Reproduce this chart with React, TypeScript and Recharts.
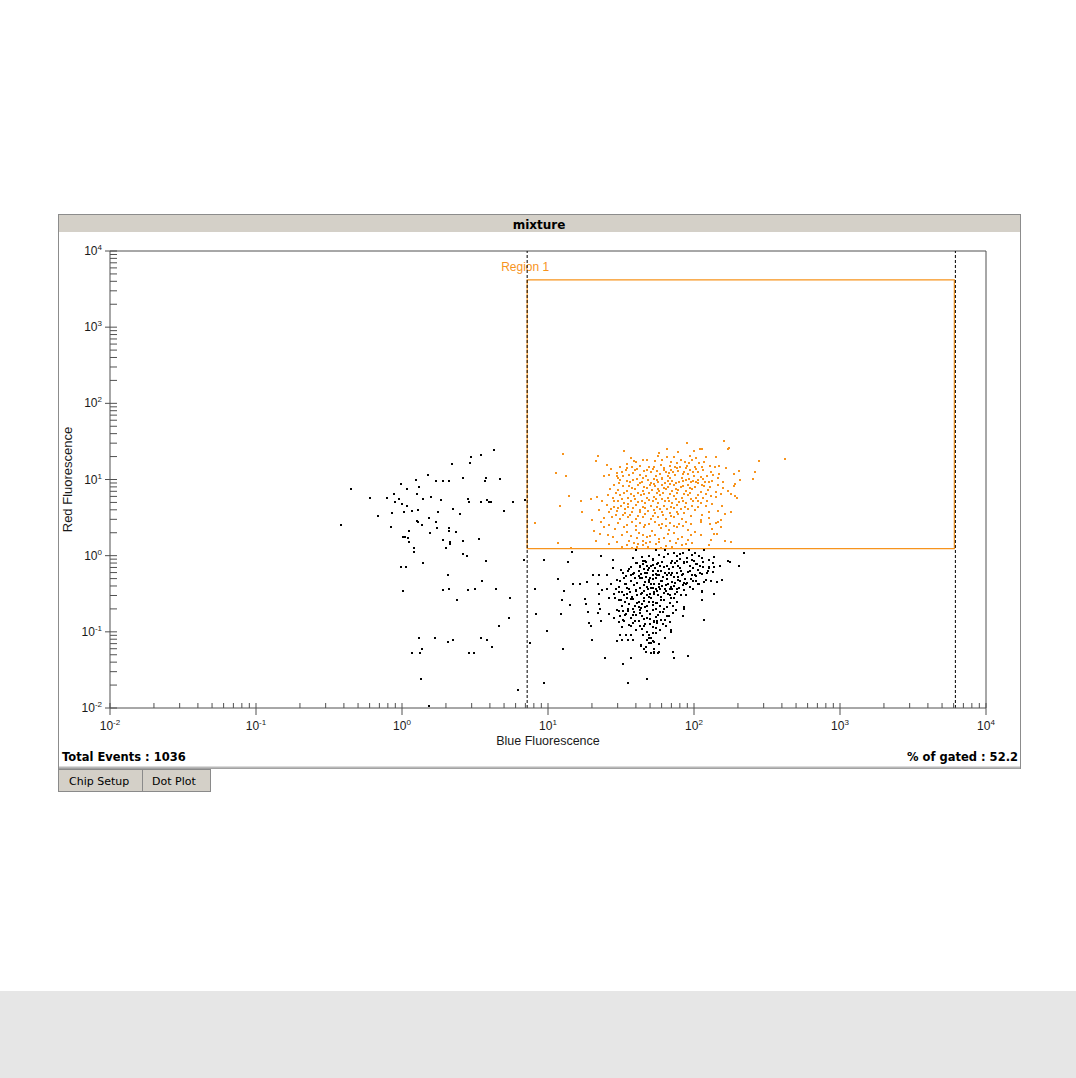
import React from 'react';
import { ScatterChart, Scatter, XAxis, YAxis, ReferenceLine, ReferenceArea, Label } from 'recharts';

const ORANGE = '#F7941D';
const AXIS_GREY = '#505050';
const SANS = '"Liberation Sans", Arial, sans-serif';
const UI_FONT = '"DejaVu Sans", Verdana, sans-serif';

const plotTitle = 'mixture';
const xTitle = 'Blue Fluorescence';
const yTitle = 'Red Fluorescence';
const regionName = 'Region 1';
const totalEvents = 1036;
const gatedPercent = 52.2;
const tabNames = ['Chip Setup', 'Dot Plot'];

// log decades on both axes, minor marks at 2..9 inside each decade
const decades = [-2, -1, 0, 1, 2, 3, 4];
const minorSteps = [2, 3, 4, 5, 6, 7, 8, 9];

// gate markers (blue axis) and the Region 1 box
const gateMarkers = [7.2, 6170];
const regionBlue = [7.2, 6070];
const regionRed = [1.235, 4170];

// [blue, red] events inside Region 1
const gatedEvents: [number, number][] = [
  [90, 30], [33, 24], [65, 25], [110, 25], [113, 25], [12.7, 21.6], [21.9, 20.4], [57, 20.4], [73, 19.6], [94, 20.4],
  [104, 19], [120, 19.6], [37, 19], [44.7, 17.8], [47.5, 17.8], [40.3, 16.9], [54, 17.4], [70, 17.2], [82, 18.2],
  [86.8, 17.2], [97.5, 18.2], [21.3, 17.6], [118, 17.2],
  [31.3, 14.5], [35, 14], [37.8, 14.5], [42.5, 15], [49, 14.5], [53.5, 14.8], [59.8, 15.6], [62.7, 14.1], [68.5, 15.2],
  [74.5, 14.8], [80, 14.5], [89.6, 15.2], [102, 14.5], [113, 14.8], [128, 15],
  [32, 12.7], [34.1, 13.5], [39.4, 13.2], [45.7, 12.9], [51.1, 12.4], [56, 12.9], [64.5, 12.4], [69.4, 13.5], [78, 12.9],
  [85.6, 12.7], [93.4, 13.5], [106, 12.7], [116, 13.5], [130, 12.4],
  [11.4, 12], [13.2, 11.1], [24, 11.1], [26, 11.5], [29.7, 11], [32.6, 11], [35.8, 11.5], [42.9, 11.5], [46.7, 11],
  [54.6, 11], [60.3, 10.6], [66.5, 11], [74, 11.5], [82.3, 10.6], [100, 11.1], [111, 10.7], [122, 11.1], [136, 11.5],
  [31.1, 9.9], [34.5, 9.5], [38, 10], [43.7, 9.4], [48.7, 9.8], [53.5, 10.2], [57, 9.4], [63.3, 9], [71.2, 9.6], [79, 9.4],
  [88, 10], [95.6, 9.2], [107, 9.8], [119, 9.4], [132, 9.6],
  [28.3, 8.5], [32.6, 8.1], [35.8, 8.3], [41.3, 8.5], [45.7, 8], [50.3, 8.5], [54.1, 8.1], [60.3, 8.5], [66.5, 8],
  [73.5, 8.5], [81.6, 7.9], [90.5, 8.5], [102, 8], [113, 8.5], [129, 7.9],
  [30.4, 7.3], [34.6, 7.1], [39.4, 7.4], [44.4, 7], [51.7, 7.3], [57.6, 7], [63.9, 7.4], [70.3, 7], [78, 7.3], [88, 7],
  [97.5, 7.4], [111, 6.8], [124, 7.3],
  [13.9, 6], [21.6, 5.9], [25.6, 6.2], [27.8, 5.8], [31.3, 6.2], [35.2, 5.7], [39, 6], [43.4, 6.2], [47.5, 5.7], [53, 5.9],
  [58.8, 6.2], [66, 5.7], [73.3, 6], [82.3, 5.7], [91.6, 6.2], [103, 5.8], [115, 5.7], [130, 6],
  [19.7, 5.6], [23.3, 5.3], [30, 5.2], [33.3, 4.97], [37, 5.2], [41.5, 5.1], [46.2, 4.85], [52.3, 5.2], [57, 4.97],
  [63.3, 5.2], [71.2, 4.85], [79, 5.1], [88.5, 4.86], [99, 5.2], [111, 4.85], [123, 5.2],
  [12, 4.5], [16.8, 5.2], [25.3, 4.66], [28.3, 4.4], [31.6, 4.55], [35.5, 4.4], [40.3, 4.66], [44.7, 4.4], [51.1, 4.55],
  [56, 4.3], [62.2, 4.55], [69.4, 4.4], [76.8, 4.66], [86.8, 4.4], [96.7, 4.55], [107, 4.3], [121, 4.5], [132, 4.75],
  [17, 3.7], [22.2, 4], [26.1, 3.7], [29.8, 3.9], [33.7, 3.6], [37.8, 3.8], [42.9, 3.7], [48.7, 3.9], [54, 3.6],
  [60.6, 3.8], [68, 3.6], [76, 3.8], [85.6, 3.6], [113, 3.45], [127, 3.7],
  [19.9, 2.97], [24.3, 3.13], [27.5, 3.25], [31.3, 3.05], [35.2, 3.18], [39.8, 3], [44.7, 3.25], [51.1, 3.05], [57, 3.25],
  [64, 3], [73.5, 3.18], [82.3, 3.05], [111, 2.94], [126, 3.13],
  [23, 2.75], [37.8, 2.75], [42.9, 2.65], [46.4, 2.55], [54.1, 2.75], [60.3, 2.6], [69, 2.7], [79, 2.6], [88, 2.75],
  [111, 2.75], [128, 2.6],
  [20.6, 2.13], [24.1, 2.4], [28.8, 2.26], [33.3, 2.35], [39.8, 2.2], [45.7, 2.4], [51.7, 2.08], [59.8, 2.31], [67, 2.17],
  [76.8, 2.35], [90.5, 2.17], [102, 2.04], [132, 2.26],
  [21.3, 1.54], [25.8, 1.89], [32, 1.89], [37, 1.81], [42, 1.96], [47.5, 1.74], [54.1, 1.89], [62.2, 1.7], [73.3, 1.96],
  [83, 1.77], [111, 1.89], [44.7, 1.57], [50.3, 1.51], [68, 1.54], [91.6, 1.6], [131, 1.6],
  [11.8, 1.45], [26.1, 1.42], [34.5, 1.39], [38.9, 1.48], [44.4, 1.36], [55.2, 1.42], [64.5, 1.34], [82.3, 1.36],
  [97.5, 1.45], [127, 1.36], [32, 1.29], [40.9, 1.29], [48.7, 1.29], [59.8, 1.27], [70.3, 1.29], [37.8, 1.25],
  [160, 32], [174, 26.3], [172, 25.3], [418, 18.7], [280, 17.6], [142, 19.8], [140, 14.4], [148, 15.2], [165, 14],
  [202, 12.9], [188, 11.8], [260, 12.7], [255, 10.2], [207, 9.8], [148, 11.8], [145, 10.4], [157, 9.4], [146, 8.5],
  [157, 7.75], [170, 7.1], [192, 8.7], [188, 8.2], [180, 6.5], [190, 6], [196, 5.7], [142, 6.8], [154, 6.5], [141, 5.9],
  [155, 4.55], [145, 3.9], [162, 3.55], [178, 3.7], [153, 2.94], [146, 2.8], [142, 2.65], [154, 2.4], [138, 1.93],
  [144, 1.93], [162, 1.57], [178, 1.51], [14.3, 1.27], [8.2, 2.7],
  // denser core of the gated population
  [27, 13.8], [29.5, 12.1], [38.5, 12.2], [41, 13.9], [47.8, 13.2], [52.5, 13.9], [58.5, 11.8], [62, 13.3], [67.5, 12],
  [72, 12.5], [76, 14], [84, 11.7], [88, 14], [91, 11.9], [98, 12.6], [104, 13.8],
  [30.3, 10.4], [36.6, 9.2], [40.5, 10.3], [45, 10.5], [50.5, 9.1], [55.5, 9.9], [60, 10.2], [66, 9.6], [69, 10.4],
  [75.5, 9], [84.5, 9.6], [92, 10.3], [99, 9.7], [103, 9.3], [115, 10.2], [126, 9.3],
  [26.5, 7.6], [30.8, 8.9], [37.5, 7.8], [43, 8.9], [47.8, 7.7], [52.8, 8.8], [56.8, 7.6], [62.7, 7.8], [69, 8.8],
  [75.8, 7.6], [84.3, 8.3], [93.5, 7.8], [106, 8.9], [118, 8.1],
  [29, 6.6], [33, 6.6], [36.9, 6.4], [41.3, 6.6], [45.5, 6.5], [49.5, 6.6], [55.5, 6.7], [61, 6.6], [68.5, 6.4], [76, 6.7],
  [85, 6.5], [94, 6.6], [107, 6.3], [120, 6.5],
  [28.5, 5.3], [32, 5.5], [35.3, 4.8], [39.5, 5.5], [43.8, 5.3], [49.5, 5.4], [54.9, 5.5], [60.5, 5.5], [67.5, 5.2],
  [75, 5.5], [84, 5.3], [95.5, 5.6], [106, 5.3],
  [27, 4.1], [30.4, 4.2], [33.8, 4.1], [38, 4.2], [42.4, 4], [46.5, 4.2], [53, 4], [58.5, 4.1], [65.6, 4.1], [72.5, 4.2],
  [81, 4.1], [91.5, 4.1], [102, 4],
  [29, 3.4], [32.5, 3.4], [36.5, 3.45], [41.3, 3.35], [46.5, 3.5], [52.5, 3.35], [61.5, 3.45], [70, 3.35], [78, 3.5], [96, 3.3],
  [26, 2.55], [30, 2.65], [34.5, 2.55], [40, 2.45], [49.5, 2.6], [57.5, 2.5], [64.5, 2.45], [73, 2.45], [84, 2.45], [95, 2.6],
  [22.6, 1.95], [28, 1.75], [35, 2.02], [40.5, 1.72], [45, 1.88], [50, 1.8], [57.5, 1.65], [66, 1.92], [78, 1.65], [96, 1.85],
  [29.5, 1.5], [36, 1.58], [41.5, 1.42], [47, 1.45], [58, 1.52], [75, 1.45], [88, 1.42],
  [35, 16.2], [39, 17.6], [60, 17.8], [65, 19.8], [77, 16.5], [92, 16.6], [108, 16.3], [25.5, 15.4], [58, 22.5], [78, 22.8],
  [100, 23.5],
];

// [blue, red] events outside Region 1
const otherEvents: [number, number][] = [
  // sparse population left of the gate
  [4.3, 24.5], [3.5, 21], [2.95, 20], [2.9, 16.5], [2.2, 16], [1.5, 11.5], [2.6, 10.5], [3.75, 10.5], [3.7, 9.6],
  [4.7, 10.2], [1.25, 9.9], [1.7, 9.6], [1.9, 9.6], [2.1, 9.6], [0.99, 8.8], [1.08, 7.5], [1.31, 8], [0.45, 7.5],
  [0.6, 5.8], [0.79, 5.8], [0.88, 6.5], [0.95, 5.6], [0.9, 5], [1, 4.8], [1.08, 4.5], [1.27, 6.5], [1.58, 5.9],
  [1.39, 5.6], [1.85, 5.4], [2.83, 5.6], [2.88, 5.1], [3.48, 5], [3.8, 5.4], [3.95, 5.1], [4.05, 5], [5.75, 5], [7, 5.4],
  [2.23, 4.1], [0.85, 3.66], [1.03, 3.8], [1.17, 3.9], [1.29, 4], [1.76, 3.8], [2.5, 3.55], [5, 3.9], [0.68, 3.35],
  [1.53, 3.15], [1.27, 2.88], [1.29, 2.8], [1.7, 2.8], [0.38, 2.55], [0.84, 2.4], [1.37, 2.55], [1.73, 2.33], [2.1, 2.33],
  [2.1, 2.12], [2.35, 2.06], [1.12, 2.12], [1.56, 2], [1.01, 1.78], [1.05, 1.78], [1.1, 1.72], [1.12, 1.52], [1.9, 1.62],
  [2.13, 1.52], [2.13, 1.44], [2.6, 1.57], [3.36, 1.67], [2, 1.27], [1.21, 1.27], [1.21, 1.13], [2.6, 1.06], [2.78, 1],
  [1.39, 0.81], [3.76, 0.86], [6.85, 0.89], [9.4, 0.89], [0.99, 0.72], [1.06, 0.72], [2.07, 0.56], [3.53, 0.46],
  [1.02, 0.34], [1.9, 0.35], [2.1, 0.36], [2.83, 0.35], [3.16, 0.36], [4.4, 0.36], [2.38, 0.26], [5.5, 0.28], [8.1, 0.36],
  [8.3, 0.17], [4.6, 0.12], [5.4, 0.15], [9.8, 0.104], [1.31, 0.084], [1.68, 0.084], [2.23, 0.079], [2.07, 0.073],
  [3.47, 0.084], [3.83, 0.077], [4.13, 0.064], [1.37, 0.059], [1.33, 0.053], [1.17, 0.053], [2.88, 0.053], [3.1, 0.053],
  [7.5, 0.072], [1.35, 0.024], [9.4, 0.021], [1.53, 0.0105], [6.2, 0.017],
  // main negative population, left half
  [14.5, 1.12], [13.7, 0.83], [23, 0.98], [27.8, 0.89], [40, 1.17], [54.5, 1.17], [11.8, 0.5], [12.9, 0.34], [14.9, 0.43],
  [16.6, 0.42], [18.4, 0.45], [20.4, 0.55], [22.4, 0.55], [25.3, 0.55], [27.8, 0.69], [31.4, 0.64], [32.6, 0.59],
  [33.2, 0.51], [35.9, 0.66], [36.8, 0.56], [40.9, 0.8], [42.7, 0.72], [41.8, 0.62], [46.4, 0.86], [49.5, 0.69],
  [52.7, 0.76], [39.6, 0.51], [42.7, 0.51], [46.9, 0.53], [52, 0.55], [56, 0.56], [29.9, 0.48], [27, 0.43], [30.8, 0.385],
  [34.2, 0.43], [37.3, 0.46], [22, 0.43], [23.5, 0.35], [22.4, 0.31], [25.3, 0.36], [28.1, 0.31], [30.5, 0.33],
  [33.2, 0.3], [36.4, 0.33], [40.2, 0.35], [43.3, 0.31], [47.3, 0.385], [52.7, 0.38], [57.5, 0.42], [18, 0.27],
  [18.2, 0.23], [22.4, 0.23], [22.7, 0.2], [26.3, 0.28], [28.7, 0.275], [31.4, 0.265], [34.6, 0.275], [38.5, 0.27],
  [41.9, 0.25], [45.5, 0.275], [50, 0.31], [55.5, 0.34], [12.4, 0.265], [14.1, 0.225], [12.3, 0.17], [18.7, 0.18],
  [22, 0.175], [26, 0.173], [29.9, 0.195], [32.6, 0.19], [35.3, 0.186], [38, 0.2], [41.8, 0.21], [46.4, 0.21],
  [52, 0.228], [56, 0.237], [28.4, 0.15], [31.1, 0.163], [33.9, 0.166], [36.8, 0.154], [40.3, 0.166], [44.3, 0.16],
  [50, 0.147], [54.9, 0.156], [19.1, 0.132], [19.6, 0.121], [23, 0.137], [30.8, 0.134], [32.9, 0.14], [35.9, 0.124],
  [39.6, 0.137], [42.7, 0.12], [46.4, 0.128], [52, 0.116], [55.5, 0.137], [32.2, 0.114], [37.3, 0.12], [47.4, 0.101],
  [52.7, 0.096], [31.1, 0.092], [34.2, 0.09], [37.1, 0.092], [45, 0.092], [51.1, 0.084], [54.9, 0.097], [20, 0.079],
  [29.9, 0.075], [32, 0.078], [35.3, 0.078], [38, 0.077], [49.5, 0.071], [52.4, 0.075], [43.2, 0.066], [46.9, 0.064],
  [53.5, 0.06], [57.5, 0.07], [12.7, 0.06], [46.9, 0.055], [50.5, 0.053], [53.5, 0.052], [57.5, 0.054], [24.5, 0.046],
  [37.3, 0.046], [32.6, 0.038], [35.3, 0.0215], [47.3, 0.0237],
  // main negative population, right half
  [54.9, 1.19], [63.5, 1.19], [73.5, 1.1], [79.6, 1.06], [92, 1.19], [101, 1.1], [117, 1.2], [220, 1.1], [62.3, 0.97],
  [70.5, 0.86], [80.2, 0.9], [89.6, 0.93], [100, 0.84], [114, 0.93], [127, 0.87], [138, 0.95], [172, 0.86], [176, 0.83],
  [204, 0.73], [45, 0.86], [52.7, 0.91], [56.7, 0.79], [51.1, 0.74], [45.5, 0.66], [58.9, 0.74], [65.5, 0.74], [72, 0.72],
  [77.5, 0.74], [85, 0.79], [94, 0.74], [105, 0.78], [116, 0.72], [126, 0.69], [137, 0.72], [150, 0.73], [47.4, 0.6],
  [52.7, 0.62], [58, 0.56], [63.5, 0.6], [69.5, 0.55], [76, 0.59], [83, 0.55], [91.6, 0.61], [101, 0.56], [110, 0.6],
  [122, 0.59], [134, 0.61], [44.3, 0.51], [49, 0.48], [54.5, 0.51], [59.5, 0.46], [65, 0.49], [71, 0.45], [78, 0.48],
  [85, 0.44], [95, 0.49], [104, 0.46], [120, 0.48], [155, 0.48], [144, 0.45], [45.7, 0.41], [51.1, 0.38], [57.5, 0.39],
  [62.8, 0.37], [70, 0.39], [77, 0.36], [84, 0.41], [94, 0.39], [107, 0.42], [44, 0.32], [47.3, 0.3], [53.2, 0.315],
  [59.5, 0.29], [66, 0.31], [73.5, 0.28], [81, 0.3], [113, 0.34], [114, 0.33], [137, 0.315], [49, 0.25], [55, 0.237],
  [59.7, 0.26], [68.5, 0.237], [114, 0.26], [43.2, 0.206], [47.4, 0.186], [52.7, 0.194], [58.5, 0.18], [65.5, 0.163],
  [72, 0.175], [75, 0.194], [85, 0.21], [86, 0.2], [84, 0.163], [45.5, 0.149], [53.2, 0.14], [56, 0.13], [63.5, 0.143],
  [68.5, 0.134], [117, 0.143], [45.7, 0.12], [55, 0.113], [64.5, 0.12], [69.5, 0.106], [70, 0.1], [49, 0.09],
  [49.5, 0.083], [47.3, 0.077], [51.1, 0.072], [53.5, 0.073], [62.8, 0.083], [43.2, 0.068], [45.7, 0.06], [51.1, 0.053],
  [53.2, 0.054], [56.7, 0.053], [72, 0.055], [73.5, 0.045], [91.6, 0.048],
  // dense core
  [40.2, 0.8], [42.7, 0.74], [46.9, 0.83], [52.7, 0.89], [56, 0.77], [62.3, 0.71], [69.5, 0.8], [76, 0.85], [86, 0.82],
  [97, 0.89], [104, 0.77], [116, 0.83], [126, 0.72], [135, 0.8], [35.3, 0.62], [38, 0.57], [41.8, 0.54], [46.4, 0.6],
  [50, 0.51], [54.5, 0.57], [59.5, 0.62], [65, 0.55], [71, 0.59], [78, 0.53], [84, 0.57], [94, 0.62], [103, 0.54],
  [114, 0.58], [125, 0.62], [31.1, 0.46], [33.9, 0.42], [37.3, 0.47], [40.9, 0.44], [45.5, 0.41], [49.5, 0.45],
  [53.5, 0.42], [60.2, 0.47], [66, 0.43], [72.8, 0.4], [80.2, 0.46], [87.5, 0.43], [98.5, 0.47], [108, 0.42],
  [118, 0.45], [131, 0.47], [29, 0.36], [32.2, 0.33], [35.9, 0.37], [40, 0.34], [44, 0.32], [48.5, 0.36], [53.2, 0.33],
  [58.5, 0.37], [64.5, 0.34], [70.5, 0.36], [77, 0.33], [85, 0.35], [30.5, 0.265], [33.5, 0.245], [36.8, 0.27],
  [40.9, 0.24], [45.7, 0.255], [51.1, 0.275], [55.5, 0.24], [62.3, 0.26], [69.5, 0.275], [77, 0.245], [30.8, 0.19],
  [35.3, 0.2], [39, 0.18], [42.7, 0.196], [47.3, 0.19], [54.5, 0.2], [61.6, 0.18], [67.5, 0.16], [32.6, 0.145],
  [36.8, 0.15], [41.8, 0.14], [47.4, 0.15], [53.5, 0.136], [59.7, 0.145],
  [38.5, 0.92], [44, 0.95], [49.5, 0.98], [58, 1.02], [66.5, 1.05], [76, 1], [84, 1.08], [97, 1.02], [108, 1],
  [37, 0.71], [44.5, 0.78], [48, 0.74], [54, 0.68], [60.5, 0.83], [67, 0.66], [74, 0.8], [80, 0.68], [90, 0.83], [99, 0.69],
  [110, 0.73], [34, 0.54], [39, 0.6], [43.5, 0.58], [48.5, 0.64], [52.5, 0.5], [56.5, 0.62], [61.5, 0.53], [67.5, 0.6],
  [73.5, 0.53], [81, 0.63], [87, 0.5], [97, 0.55], [106, 0.64], [35, 0.38], [39, 0.41], [42.5, 0.38], [46, 0.45],
  [51, 0.43], [55, 0.36], [60, 0.4], [64.5, 0.41], [68, 0.36], [74.5, 0.44], [79.5, 0.38], [90, 0.44], [99, 0.36],
  [34.5, 0.31], [37.5, 0.29], [41, 0.3], [45.5, 0.34], [49.5, 0.29], [56.5, 0.3], [62.5, 0.32], [69, 0.3], [74, 0.31],
  [88, 0.3], [32, 0.22], [36, 0.23], [39.5, 0.22], [44, 0.23], [48, 0.22], [52, 0.25], [58.5, 0.22], [65, 0.21], [72, 0.22],
  [34, 0.17], [38, 0.165], [43, 0.175], [50, 0.17], [56.5, 0.165], [62, 0.2], [40, 0.105], [44, 0.11], [50, 0.125],
  [58.5, 0.105], [38, 0.13], [61, 0.125],
];

const gatedData = gatedEvents.map(([blue, red]) => ({ blue, red }));
const otherData = otherEvents.map(([blue, red]) => ({ blue, red }));

const isDecade = (v: number) => decades.some((e) => Math.abs(v - 10 ** e) < 1e-9 * 10 ** e);
const decadeOf = (v: number) => Math.round(Math.log10(v));

// every decade plus the 2..9 steps between them
const logTicks: number[] = decades.flatMap((e, i) =>
  i === decades.length - 1 ? [10 ** e] : [10 ** e, ...minorSteps.map((m) => Number((m * 10 ** e).toPrecision(3)))]
);

const XTick = (props: any) => {
  const { x, y, payload } = props;
  const v = payload.value;
  if (!isDecade(v)) {
    return <line x1={x} x2={x} y1={y - 5} y2={y} stroke={AXIS_GREY} />;
  }
  return (
    <g>
      <line x1={x} x2={x} y1={y - 5} y2={y + 7} stroke={AXIS_GREY} />
      <text x={x} y={y + 22} textAnchor="middle" fontSize={12} fontFamily={SANS} fill="#1a1a1a">
        10<tspan dy={-5} fontSize={8}>{decadeOf(v)}</tspan>
      </text>
    </g>
  );
};

const YTick = (props: any) => {
  const { x, y, payload } = props;
  const v = payload.value;
  if (!isDecade(v)) {
    return <line x1={x} x2={x + 7} y1={y} y2={y} stroke={AXIS_GREY} />;
  }
  return (
    <g>
      <line x1={x - 5} x2={x + 7} y1={y} y2={y} stroke={AXIS_GREY} />
      <text x={x - 8} y={y + 4} textAnchor="end" fontSize={12} fontFamily={SANS} fill="#1a1a1a">
        10<tspan dy={-5} fontSize={8}>{decadeOf(v)}</tspan>
      </text>
    </g>
  );
};

const XTitle = (props: any) => {
  const vb = props.viewBox || { x: 52, y: 494, width: 876, height: 40 };
  return (
    <text x={vb.x + vb.width / 2} y={vb.y + 37} textAnchor="middle" fontSize={12.5} fontFamily={SANS} fill="#1a1a1a">
      {xTitle}
    </text>
  );
};

const YTitle = (props: any) => {
  const vb = props.viewBox || { x: 7, y: 37, width: 45, height: 457 };
  const cx = vb.x + 7;
  const cy = vb.y + vb.height / 2;
  return (
    <text x={cx} y={cy} transform={`rotate(-90, ${cx}, ${cy})`} textAnchor="middle" fontSize={13} fontFamily={SANS} fill="#1a1a1a">
      {yTitle}
    </text>
  );
};

const RegionLabel = (props: any) => {
  const vb = props.viewBox;
  if (!vb) return null;
  return (
    <text x={vb.x - 2} y={vb.y - 9} textAnchor="middle" fontSize={12} fontFamily={SANS} fill={ORANGE}>
      {regionName}
    </text>
  );
};

const dotShape = (color: string) => (props: any) => (
  <rect x={Math.round(props.cx) - 1} y={Math.round(props.cy) - 1} width={2} height={2} fill={color} />
);

export default function App() {
  return (
    <div style={{ position: 'absolute', left: 0, top: 0, width: 1076, height: 1078, background: '#fff', overflow: 'hidden' }}>
      <svg width={1076} height={1078} style={{ position: 'absolute', left: 0, top: 0 }}>
        {/* window frame */}
        <rect x={58.5} y={214.5} width={962} height={554} fill="#fff" stroke="#8c8c8c" />
        <rect x={59} y={215} width={961} height={17} fill="#d4d0c8" />
        <line x1={59} x2={1020} y1={767.5} y2={767.5} stroke="#b8b8b8" strokeWidth={2} />
        <text x={539} y={229} textAnchor="middle" fontSize={12} fontWeight="bold" fontFamily={UI_FONT} fill="#000">
          {plotTitle}
        </text>
        <text x={62} y={761} fontSize={11.5} fontWeight="bold" fontFamily={UI_FONT} fill="#000">
          {`Total Events : ${totalEvents}`}
        </text>
        <text x={1018} y={761} textAnchor="end" fontSize={11.5} fontWeight="bold" fontFamily={UI_FONT} fill="#000">
          {`% of gated : ${gatedPercent}`}
        </text>
        {/* tabs */}
        <rect x={58.5} y={769.5} width={84} height={22} fill="#d4d0c8" stroke="#8a8a8a" />
        <rect x={142.5} y={769.5} width={68} height={22} fill="#d4d0c8" stroke="#8a8a8a" />
        <text x={69} y={785} fontSize={11} fontFamily={UI_FONT} fill="#000">{tabNames[0]}</text>
        <text x={152} y={785} fontSize={11} fontFamily={UI_FONT} fill="#000">{tabNames[1]}</text>
      </svg>
      <div style={{ position: 'absolute', left: 0, top: 991, width: 1076, height: 87, background: '#e6e6e6' }} />
      <div style={{ position: 'absolute', left: 58, top: 214 }}>
        <ScatterChart width={963} height={555} margin={{ top: 37, right: 35, bottom: 21, left: 7 }}>
          <XAxis
            type="number"
            dataKey="blue"
            scale="log"
            domain={[0.01, 10000]}
            ticks={logTicks}
            interval={0}
            tickSize={0}
            tickMargin={0}
            tickLine={false}
            tick={XTick}
            axisLine={{ stroke: AXIS_GREY }}
            height={40}
            allowDataOverflow
          >
            <Label content={XTitle} />
          </XAxis>
          <YAxis
            type="number"
            dataKey="red"
            scale="log"
            domain={[0.01, 10000]}
            ticks={logTicks}
            interval={0}
            tickSize={0}
            tickMargin={0}
            tickLine={false}
            tick={YTick}
            axisLine={{ stroke: AXIS_GREY }}
            width={45}
            allowDataOverflow
          >
            <Label content={YTitle} />
          </YAxis>
          <ReferenceLine y={10000} stroke={AXIS_GREY} />
          <ReferenceLine x={10000} stroke={AXIS_GREY} />
          <ReferenceArea
            x1={regionBlue[0]}
            x2={regionBlue[1]}
            y1={regionRed[0]}
            y2={regionRed[1]}
            fill="none"
            stroke={ORANGE}
            strokeWidth={1.2}
            label={RegionLabel}
          />
          <ReferenceLine x={gateMarkers[0]} stroke="#000" strokeDasharray="3 2" />
          <ReferenceLine x={gateMarkers[1]} stroke="#000" strokeDasharray="3 2" />
          <Scatter data={otherData} fill="#000" shape={dotShape('#000')} isAnimationActive={false} />
          <Scatter data={gatedData} fill={ORANGE} shape={dotShape(ORANGE)} isAnimationActive={false} />
        </ScatterChart>
      </div>
    </div>
  );
}
